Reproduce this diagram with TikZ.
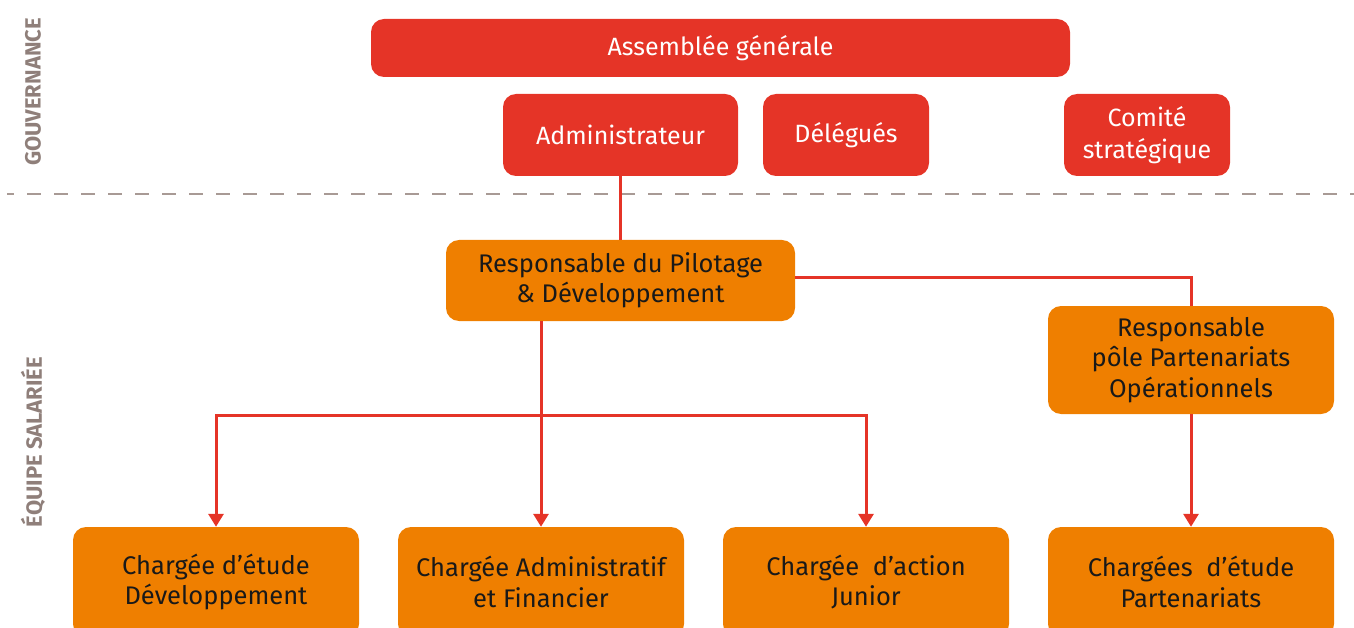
\documentclass[tikz,border=0pt]{standalone}
\usepackage{fontspec}
\setmainfont{Fira Sans}
\usepackage{xcolor}
\usetikzlibrary{arrows.meta}

\definecolor{govred}{HTML}{E53427}
\definecolor{teamorange}{HTML}{EF7F00}
\definecolor{sidegray}{HTML}{8F7F7A}
\definecolor{dashgray}{HTML}{A89A95}

\tikzset{
  govbox/.style={fill=govred, text=white, rounded corners=13pt, align=center,
    font=\fontsize{25}{32}\selectfont, inner sep=0pt},
  teambox/.style={fill=teamorange, text=black!90, rounded corners=13pt, align=center,
    font=\fontsize{25.5}{30.5}\selectfont, inner sep=0pt},
  link/.style={govred, line width=3pt},
  sidelabel/.style={text=sidegray, rotate=90, font=\bfseries\fontsize{22}{22}\selectfont}
}

\begin{document}
\begin{tikzpicture}[x=1pt, y=-1pt, >={Triangle[width=15pt,length=13pt]}]

\useasboundingbox (0,0) rectangle (1354,628);
\clip (0,0) rectangle (1354,628);

% side labels
\node[sidelabel] (gouv) at (33,92) {GOUVERNANCE};
\node[sidelabel] (equipe) at (33,442) {ÉQUIPE SALARIÉE};

% separation
\draw [dashgray, line width=2pt, dash pattern=on 14pt off 13pt, dash phase=7pt] (7,194.5) -- (1354,194.5);

% gouvernance
\node[govbox, minimum width=699pt, minimum height=58pt] (assemblee) at (720.5,48) {Assemblée générale};
\node[govbox, minimum width=235pt, minimum height=82pt] (admin) at (620.5,135) {Administrateur};
\node[govbox, minimum width=166pt, minimum height=82pt] (delegues) at (846,135) {Délégués};
\node[govbox, minimum width=166pt, minimum height=82pt] (comite) at (1147,135) {Comité\\stratégique};

% equipe salariee
\node[teambox, minimum width=349pt, minimum height=81pt] (pilotage) at (620.5,280.5) {Responsable du Pilotage\\\& Développement};
\node[teambox, minimum width=286pt, minimum height=108pt] (polepart) at (1191,360) {Responsable\\pôle Partenariats\\Opérationnels};

\node[teambox, minimum width=286pt, minimum height=110pt] (dev) at (216,582) {Chargée d’étude\\Développement};
\node[teambox, minimum width=286pt, minimum height=110pt] (admfin) at (541,582) {Chargée Administratif\\et Financier};
\node[teambox, minimum width=286pt, minimum height=110pt] (junior) at (866,582) {Chargée~~d’action\\Junior};
\node[teambox, minimum width=286pt, minimum height=110pt] (chpart) at (1191,582) {Chargées~~d’étude\\Partenariats};

\coordinate (bar) at (541,415);

% liens
\draw [link] (admin.south) -- (pilotage.north);
\draw [link] ([yshift=2.5pt]pilotage.east) -| (polepart.north);
\draw [link, ->] (pilotage.south -| admfin.north) -- (admfin.north);
\draw [link, <->] (dev.north) |- (bar -| junior.north) -- (junior.north);
\draw [link, ->] (polepart.south) -- (chpart.north);

\end{tikzpicture}
\end{document}
